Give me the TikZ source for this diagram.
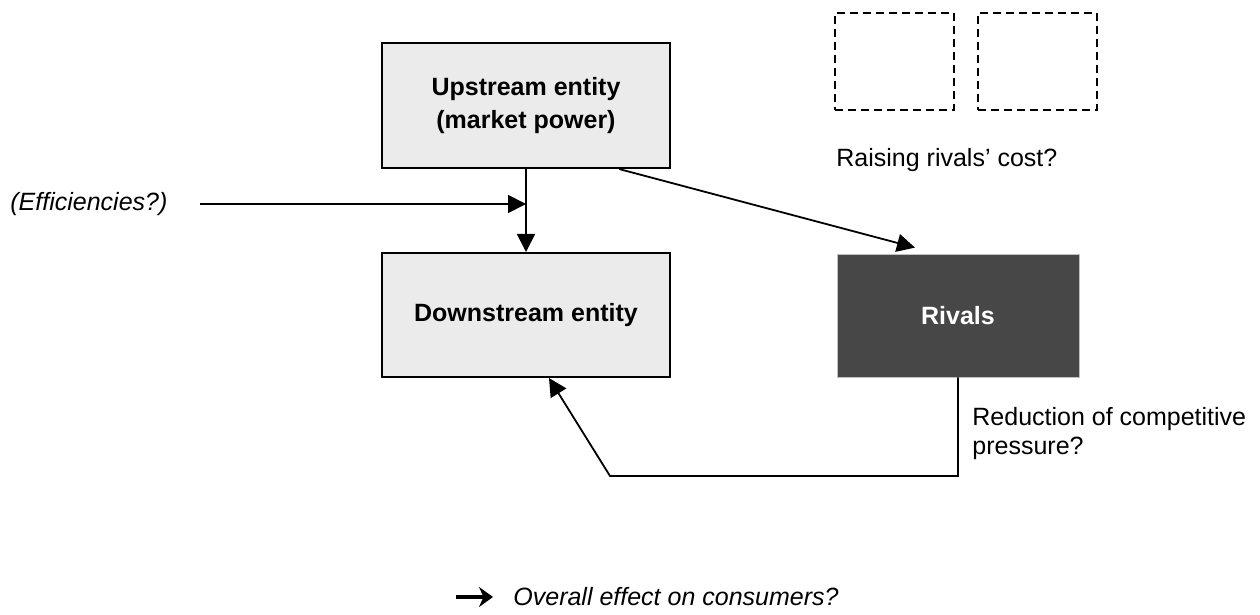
\documentclass[tikz,border=0pt]{standalone}
\usepackage{fontspec}
\setmainfont{Liberation Sans}
\usetikzlibrary{arrows.meta,calc}
\definecolor{lightbox}{RGB}{235,235,235}
\definecolor{rivalfill}{RGB}{71,71,71}

\begin{document}
\begin{tikzpicture}[x=0.5pt,y=-0.5pt,
    font=\fontsize{12.5}{14.5}\selectfont,
    every node/.style={inner sep=0pt},
    entity/.style={draw,line width=1pt,fill=lightbox,minimum width=144pt,minimum height=62pt,
        align=center,font=\fontsize{12.5}{16.5}\selectfont\bfseries},
    ghost/.style={draw,line width=1pt,dash pattern=on 4pt off 2.5pt,minimum width=59.5pt,minimum height=48.5pt},
    link/.style={line width=0.9pt,-{Triangle[length=9pt,width=9pt]}}]
    \useasboundingbox (0,0) rectangle (1260,615);

    \node[entity,minimum height=62.5pt] (up) at (526,105.5) {Upstream entity\\(market power)};
    \node[entity] (down) at (526,315) {Downstream entity};
    \node[entity,fill=rivalfill,draw=gray!50,line width=0.4pt,text=white,
        minimum width=121pt,minimum height=61.5pt] (rivals) at (958,315.5) {Rivals};

    \node[ghost] (cost1) at (894.5,61.5) {};
    \node[ghost] (cost2) at (1037.5,61.5) {};
    \node[anchor=west] (costq) at (836,160) {Raising rivals' cost?};

    \node[anchor=west,font=\fontsize{12.5}{14.5}\selectfont\itshape] (eff) at (10,204) {(Efficiencies?)};
    \coordinate (effstart) at (200,204);
    \draw[link] (effstart) -- (up.south |- effstart);
    \draw[link] (up.south) -- (down.north);

    \draw[link] ($(up.south east)+(-52,0)$) -- ($(rivals.north)+(-43,-6)$);

    % feedback from the rivals
    \node[anchor=north west,align=left] (reduc) at (972,407) {Reduction of competitive\\pressure?};
    \coordinate (bend) at (610,476);
    \draw[link] (rivals.south) |- (bend) -- ($(down.south)+(23,0)$);

    \node[anchor=west,font=\fontsize{12.5}{14.5}\selectfont\itshape] (overall) at (513,597) {Overall effect on consumers?};
    \coordinate (arrstart) at (456,597);
    \draw[line width=2pt,-{Stealth[length=7pt,width=10pt]}] (arrstart) -- ($(overall.west)+(-20,0)$);
\end{tikzpicture}
\end{document}
